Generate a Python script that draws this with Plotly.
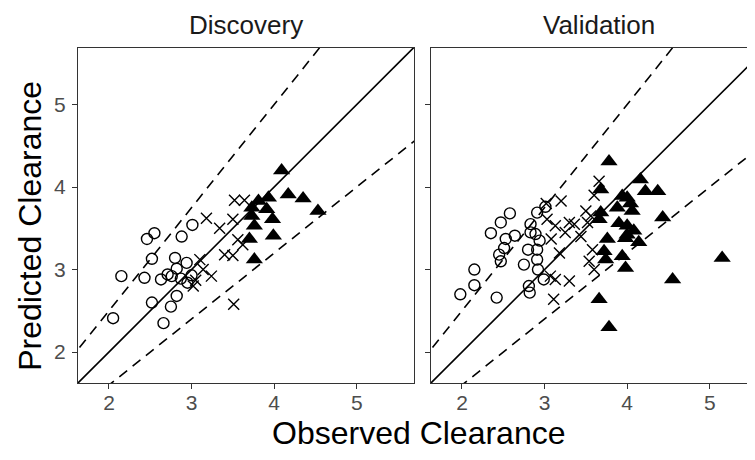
import plotly.graph_objects as go

# ---------------- data ----------------
panels = ["Discovery", "Validation"]
tick_vals = [2, 3, 4, 5]
tick_text = ["2", "3", "4", "5"]
ref_slopes = [1.0, 1.25, 0.8]
ref_dash = ["solid", "dash", "dash"]

# Discovery panel
disc_circle_x = [2.05, 2.15, 2.46, 2.55, 2.52, 2.43, 2.52, 2.63, 2.71, 2.76, 2.80, 2.82, 2.66, 2.75, 2.82, 2.88, 3.01, 2.94, 2.95, 2.87, 3.00]
disc_circle_y = [2.41, 2.92, 3.37, 3.44, 3.13, 2.90, 2.60, 2.88, 2.94, 2.92, 3.14, 3.01, 2.35, 2.55, 2.68, 3.40, 3.54, 3.08, 2.84, 2.89, 2.93]
disc_x_x = [3.05, 3.10, 3.14, 3.24, 3.18, 3.34, 3.40, 3.50, 3.56, 3.62, 3.52, 3.64, 3.51, 3.50, 3.02]
disc_x_y = [2.87, 3.12, 3.00, 2.92, 3.62, 3.50, 3.18, 3.17, 3.36, 3.30, 3.84, 3.84, 2.58, 3.61, 2.80]
disc_tri_x = [4.09, 4.17, 4.35, 4.53, 3.81, 3.93, 3.73, 3.91, 3.98, 3.73, 3.76, 3.70, 3.99, 3.76]
disc_tri_y = [4.20, 3.91, 3.86, 3.71, 3.83, 3.87, 3.75, 3.73, 3.61, 3.65, 3.53, 3.37, 3.41, 3.12]

# Validation panel
val_circle_x = [1.98, 2.15, 2.15, 2.42, 2.35, 2.47, 2.58, 2.53, 2.64, 2.51, 2.45, 2.47, 2.75, 2.80, 2.83, 2.91, 3.01, 2.89, 2.91, 2.91, 2.92, 2.81, 2.82, 2.99, 2.83, 2.94]
val_circle_y = [2.70, 3.00, 2.81, 2.66, 3.44, 3.57, 3.68, 3.37, 3.41, 3.26, 3.18, 3.10, 3.06, 3.24, 3.55, 3.69, 3.76, 3.43, 3.24, 3.12, 3.00, 2.80, 2.72, 2.88, 3.45, 3.35]
val_x_x = [3.66, 3.60, 3.20, 3.03, 3.30, 3.36, 3.50, 3.56, 3.52, 3.13, 3.25, 3.08, 3.58, 3.54, 3.60, 3.07, 3.13, 3.30, 3.11, 3.02, 3.44, 3.18]
val_x_y = [4.07, 3.90, 3.83, 3.61, 3.57, 3.55, 3.71, 3.65, 3.57, 3.53, 3.45, 3.37, 3.24, 3.10, 3.00, 2.92, 2.88, 2.86, 2.64, 3.80, 3.40, 3.20]
val_tri_x = [3.78, 4.16, 4.22, 4.37, 3.68, 3.94, 4.00, 3.88, 4.06, 3.68, 3.66, 4.43, 4.00, 4.08, 3.76, 4.00, 4.14, 3.98, 3.72, 3.94, 3.74, 3.98, 5.15, 4.55, 3.66, 3.78, 3.90, 4.04]
val_tri_y = [4.31, 4.09, 3.95, 3.95, 3.97, 3.89, 3.87, 3.75, 3.71, 3.69, 3.61, 3.63, 3.53, 3.47, 3.37, 3.42, 3.33, 3.38, 3.22, 3.16, 3.12, 3.02, 3.14, 2.88, 2.64, 2.30, 3.56, 3.80]

# ---------------- geometry (page pixels; the page body adds an 8px offset) ----------------
OFF = 8
W, H = 755 - OFF, 460 - OFF
ML = 78 - OFF
MT = 48 - OFF
bottom = 383.3 - OFF
MB = H - bottom
MR = 0
plot_w = W - ML - MR
plot_h = H - MT - MB
lo = 1.625
px_per_unit = 82.6
p1_right = 414 - OFF
p2_left = 431 - OFF
d1 = [0, (p1_right - ML) / plot_w]
d2 = [(p2_left - ML) / plot_w, 1]
hi1 = lo + (p1_right - ML) / px_per_unit
hi2 = lo + (W - p2_left) / px_per_unit
yhi = lo + plot_h / px_per_unit


def px_x(p):
    return (p - OFF - ML) / plot_w


def px_y(p):
    return (H - MB - (p - OFF)) / plot_h


FONT = "Liberation Sans, Arial, sans-serif"
fig = go.Figure()

sets = [
    (disc_circle_x, disc_circle_y, disc_x_x, disc_x_y, disc_tri_x, disc_tri_y, "x", "y"),
    (val_circle_x, val_circle_y, val_x_x, val_x_y, val_tri_x, val_tri_y, "x2", "y2"),
]
for cx, cy, xx, xy, tx, ty, xa, ya in sets:
    for s, d in zip(ref_slopes, ref_dash):
        xs = [1.0, 6.0]
        fig.add_trace(go.Scatter(x=xs, y=[s * v for v in xs], mode="lines", xaxis=xa, yaxis=ya,
                                 line=dict(color="black", width=1.6,
                                           dash="solid" if d == "solid" else "10px,7px"),
                                 showlegend=False, hoverinfo="skip"))
    fig.add_trace(go.Scatter(x=cx, y=cy, mode="markers", xaxis=xa, yaxis=ya, showlegend=False,
                             marker=dict(symbol="circle-open", size=11, color="black",
                                         line=dict(width=1.4))))
    fig.add_trace(go.Scatter(x=xx, y=xy, mode="markers", xaxis=xa, yaxis=ya, showlegend=False,
                             marker=dict(symbol="x-thin-open", size=11, color="black",
                                         line=dict(width=1.4, color="black"))))
    fig.add_trace(go.Scatter(x=tx, y=ty, mode="markers", xaxis=xa, yaxis=ya, showlegend=False,
                             marker=dict(symbol="triangle-up", size=15, color="black",
                                         line=dict(width=0))))

axis_common = dict(showgrid=False, zeroline=False, ticks="outside", ticklen=5, tickwidth=1,
                   tickcolor="#333333", linecolor="#333333", linewidth=1, showline=True,
                   tickvals=tick_vals, ticktext=tick_text,
                   tickfont=dict(family=FONT, size=21, color="#4D4D4D"))

fig.update_layout(
    width=W, height=H,
    margin=dict(l=ML, r=MR, t=MT, b=MB, pad=0),
    paper_bgcolor="white", plot_bgcolor="white",
    xaxis=dict(domain=d1, range=[lo, hi1], anchor="y", mirror=True, ticklabelstandoff=-4,
               **axis_common),
    yaxis=dict(domain=[0, 1], range=[lo, yhi], anchor="x", mirror=True, ticklabelstandoff=2,
               **axis_common),
    xaxis2=dict(domain=d2, range=[lo, hi2], anchor="y2", mirror=True, ticklabelstandoff=-4,
                **axis_common),
    yaxis2=dict(domain=[0, 1], range=[lo, yhi], anchor="x2", mirror=False,
                showticklabels=False, **axis_common),
)

p2_right_virtual = p2_left + OFF + (p1_right - ML)
fig.add_annotation(text=panels[0], x=px_x((78 + 414) / 2), y=px_y(25), xref="paper", yref="paper",
                   showarrow=False, xanchor="center", yanchor="middle",
                   font=dict(family=FONT, size=26, color="#1A1A1A"))
fig.add_annotation(text=panels[1], x=px_x((431 + p2_right_virtual) / 2), y=px_y(25),
                   xref="paper", yref="paper",
                   showarrow=False, xanchor="center", yanchor="middle",
                   font=dict(family=FONT, size=26, color="#1A1A1A"))
fig.add_annotation(text="Observed Clearance", x=px_x(418), y=px_y(433), xref="paper", yref="paper",
                   showarrow=False, xanchor="center", yanchor="middle",
                   font=dict(family=FONT, size=32, color="black"))
fig.add_annotation(text="Predicted Clearance", x=px_x(30), y=px_y(226), xref="paper", yref="paper",
                   showarrow=False, xanchor="center", yanchor="middle", textangle=-90,
                   font=dict(family=FONT, size=32, color="black"))

fig.write_html("out.html")
